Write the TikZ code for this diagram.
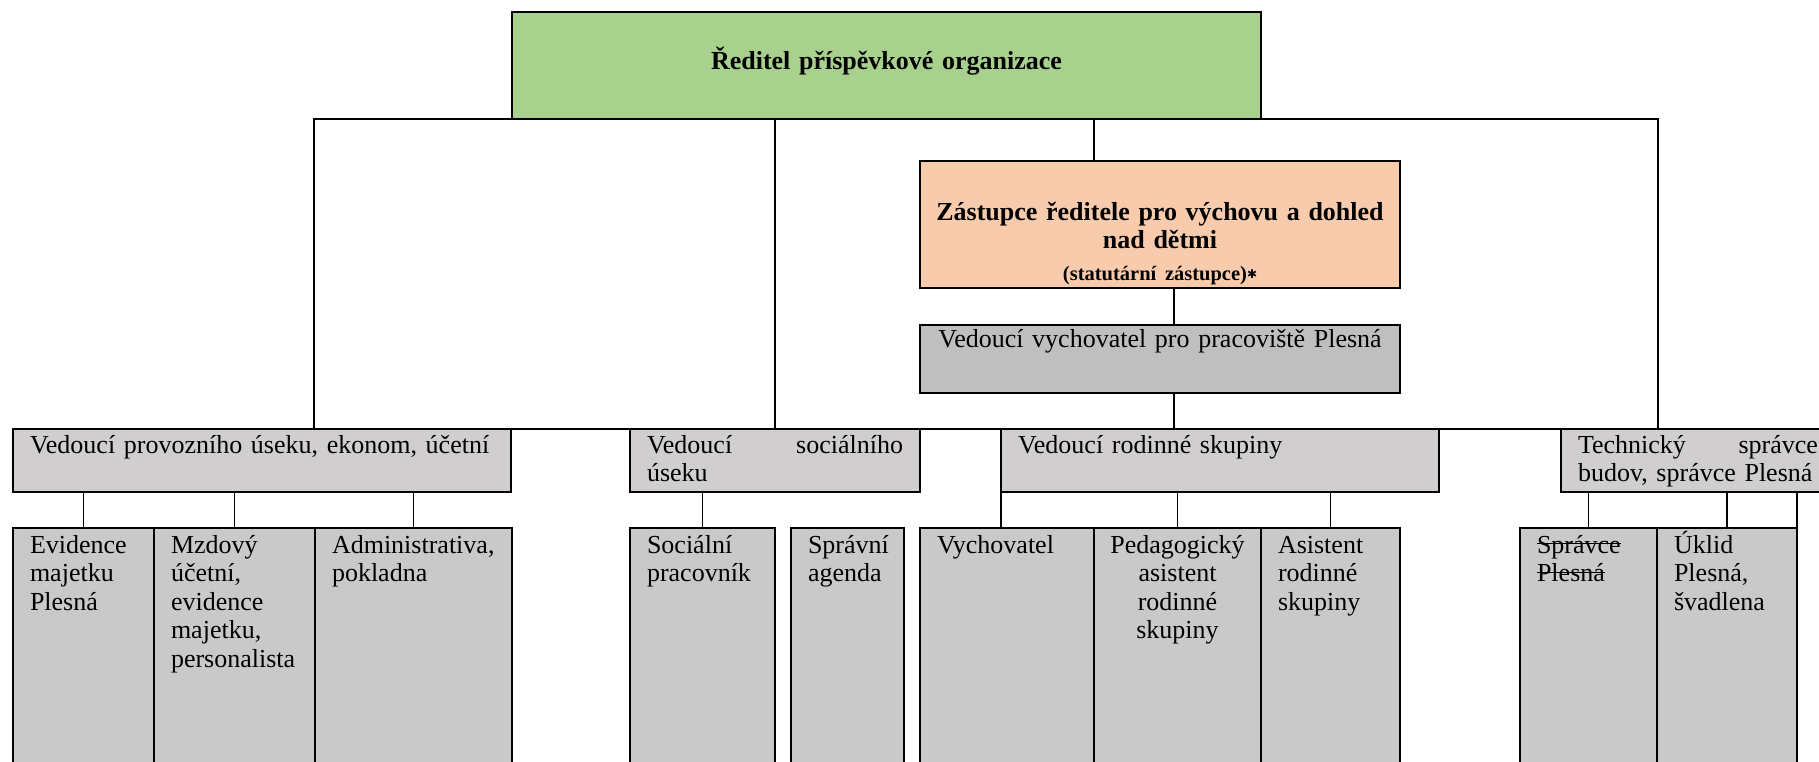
\documentclass[tikz,border=0pt]{standalone}
\usepackage{fontspec}
\setmainfont{Liberation Serif}
\newfontfamily\znakfont{DejaVu Sans}
\hyphenpenalty=10000
\exhyphenpenalty=10000

\definecolor{zelena}{HTML}{A9D18E}
\definecolor{oranzova}{HTML}{F8CBAD}
\definecolor{seda}{HTML}{BFBFBF}
\definecolor{sedavedouci}{HTML}{D0CECE}
\definecolor{sedapozice}{HTML}{C9C9C9}

\newcommand\preskrt[1]{\mbox{\setbox2\hbox{#1}\rlap{\rule[0.33em]{\wd2}{1.3pt}}\box2}}

\begin{document}
\begin{tikzpicture}[x=1pt, y=-1pt,
  line width=1.6pt,
  font=\fontsize{26}{28.5}\selectfont,
  box/.style={draw, line width=1.8pt, anchor=north west, outer sep=0pt,
    inner ysep=0pt, inner xsep=17pt, align=left},
  tucne/.style={font=\fontsize{26}{28.5}\selectfont\bfseries},
  vedouci/.style={box, fill=sedavedouci, text height=24pt, text depth=39pt},
  pozice/.style={box, fill=sedapozice, text height=25pt, text depth=247pt}
]
\useasboundingbox (0,0) rectangle (1819,761);

\node[box, tucne, fill=zelena, align=center, inner xsep=0pt, text width=749pt,
    text height=57pt, text depth=50pt] (reditel) at (512,12)
    {Ředitel příspěvkové organizace};
\node[box, tucne, fill=oranzova, align=center, inner xsep=0pt, text width=480pt,
    text height=59pt, text depth=68pt] (zastupce) at (920,161)
    {Zástupce ředitele pro výchovu a dohled\\nad dětmi\\[3pt]
    {\fontsize{20.5}{22}\selectfont(statutární zástupce)\raisebox{2pt}{\znakfont\fontsize{12}{12}\selectfont ✱}}};
\node[box, fill=seda, align=center, inner xsep=0pt, text width=480pt,
    text height=22pt, text depth=46pt] (vychovatel) at (920,325)
    {Vedoucí vychovatel pro pracoviště Plesná};

\node[vedouci, text width=464pt] (provoz) at (13,429)
    {Vedoucí provozního úseku, ekonom, účetní};
\node[vedouci, text width=256pt] (social) at (630,429)
    {Vedoucí\hfill sociálního\\úseku};
\node[vedouci, text width=404pt] (rodina) at (1001,429)
    {Vedoucí rodinné skupiny};
\node[vedouci, text width=240pt] (tech) at (1561,429)
    {Technický\hfill správce\\budov, správce Plesná};

\node[pozice, text width=107pt] (evidence) at (13,528)
    {Evidence\\majetku\\Plesná};
\node[pozice, text width=127pt] (mzdy) at (154,528)
    {Mzdový\\účetní,\\evidence\\majetku,\\personalista};
\node[pozice, text width=163pt] (admin) at (315,528)
    {Administrativa,\\pokladna};
\node[pozice, text width=111pt] (socprac) at (630,528)
    {Sociální\\pracovník};
\node[pozice, text width=79pt] (spravni) at (791,528)
    {Správní\\agenda};
\node[pozice, text width=140pt] (vych) at (920,528)
    {Vychovatel};
\node[pozice, align=center, inner xsep=10pt, text width=147pt] (pedag) at (1094,528)
    {Pedagogický\\asistent\\rodinné\\skupiny};
\node[pozice, text width=105pt] (asist) at (1261,528)
    {Asistent\\rodinné\\skupiny};
\node[pozice, text width=103pt] (spravce) at (1520,528)
    {\preskrt{Správce}\\\preskrt{Plesná}};
\node[pozice, text width=106pt] (uklid) at (1657,528)
    {Úklid\\Plesná,\\švadlena};

\coordinate (busl) at (314,119);
\coordinate (busr) at (1658,119);
\coordinate (odbocka) at (1094,119);

\draw (provoz.north -| busl) -- (busl) -- (busr) -- (busr |- tech.north);
\draw (social.north) -- (social.north |- busl);
\draw (odbocka) -- (odbocka |- zastupce.north);
\draw ([xshift=14pt]zastupce.south) -- ([xshift=14pt]vychovatel.north);
\draw ([xshift=14pt]vychovatel.south) -- ([xshift=14pt]vychovatel.south |- rodina.north);
\draw (provoz.north west) -- (tech.north east);

\draw (evidence.north) -- (evidence.north |- provoz.south);
\draw (mzdy.north) -- (mzdy.north |- provoz.south);
\draw (admin.north) -- (admin.north |- provoz.south);
\draw (socprac.north) -- (socprac.north |- social.south);
\draw (rodina.south west) -- (rodina.south west |- vych.north);
\draw (pedag.north) -- (pedag.north |- rodina.south);
\draw (asist.north) -- (asist.north |- rodina.south);
\draw (spravce.north) -- (spravce.north |- tech.south);
\draw (uklid.north) -- (uklid.north |- tech.south);
\draw (uklid.north east) -- (uklid.north east |- tech.south);
\end{tikzpicture}
\end{document}
